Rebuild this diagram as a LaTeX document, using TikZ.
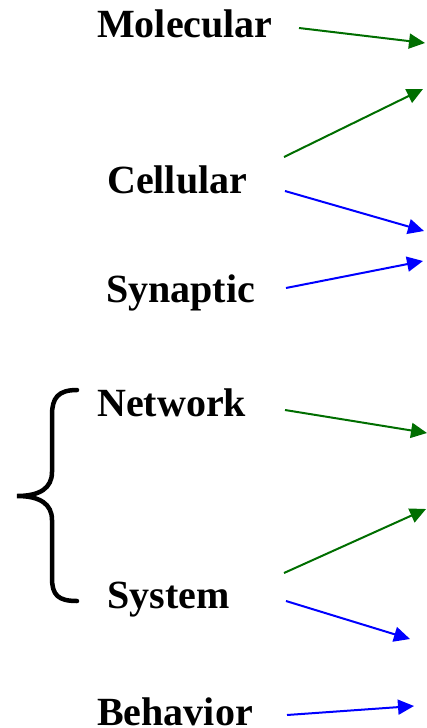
\documentclass[tikz,border=0pt]{standalone}
\usepackage{fontspec}
\setmainfont{Liberation Serif}
\usetikzlibrary{arrows.meta}
\definecolor{dgreen}{RGB}{0,110,0}
\definecolor{ablue}{RGB}{0,0,255}
\begin{document}
\begin{tikzpicture}[x=1pt,y=-1pt,
  lbl/.style={anchor=base west,inner sep=0pt,font=\fontsize{40}{48}\selectfont\bfseries},
  arr/.style={line width=2pt,-{Triangle[length=16pt,width=15pt]}},
  garr/.style={arr,draw=dgreen,fill=dgreen},
  barr/.style={arr,draw=ablue,fill=ablue}]
\useasboundingbox (0,0) rectangle (427,728);
\node[lbl] (mol) at (97,37) {Molecular};
\node[lbl] (cel) at (107,193) {Cellular};
\node[lbl] (syn) at (106,302) {Synaptic};
\node[lbl] (net) at (97,416) {Network};
\node[lbl] (sys) at (107,608) {System};
\node[lbl] (beh) at (97,725) {Behavior};
\coordinate (s1) at (299,28); \coordinate (t1) at (425,43);
\coordinate (s2) at (284,157); \coordinate (t2) at (423,89);
\coordinate (s3) at (285,191); \coordinate (t3) at (424,231);
\coordinate (s4) at (286,288); \coordinate (t4) at (423,261);
\coordinate (s5) at (285,410); \coordinate (t5) at (427,433);
\coordinate (s6) at (284,573); \coordinate (t6) at (426,509);
\coordinate (s7) at (286,601); \coordinate (t7) at (410,639);
\coordinate (s8) at (287,715); \coordinate (t8) at (414,706);
\draw[garr] (s1) -- (t1);
\draw[garr] (s2) -- (t2);
\draw[barr] (s3) -- (t3);
\draw[barr] (s4) -- (t4);
\draw[garr] (s5) -- (t5);
\draw[garr] (s6) -- (t6);
\draw[barr] (s7) -- (t7);
\draw[barr] (s8) -- (t8);
\draw[line width=4.5pt,line cap=round] (77,390) .. controls (58,390) and (52,398) .. (52,415) -- (52,472) .. controls (52,488) and (40,496) .. (17,496) .. controls (40,496) and (52,504) .. (52,520) -- (52,578) .. controls (52,595) and (58,601) .. (77,601);
\end{tikzpicture}
\end{document}
